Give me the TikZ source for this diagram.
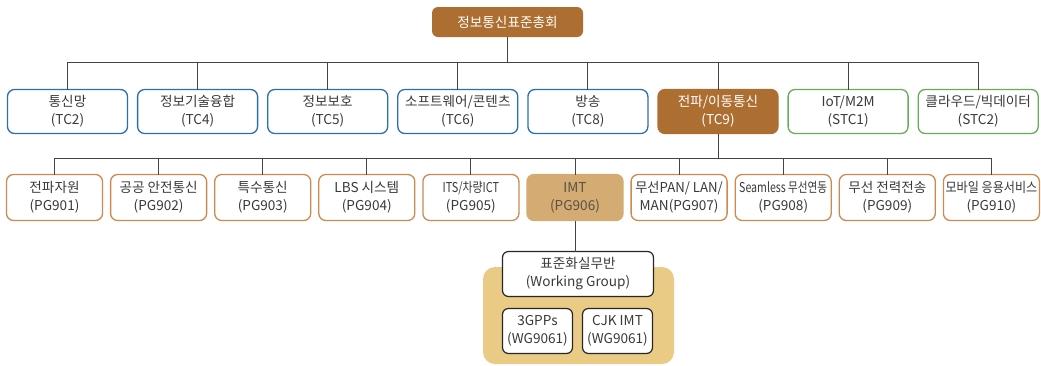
\documentclass[tikz,border=0pt]{standalone}
\usepackage{fontspec}
\setmainfont{Noto Sans CJK KR}
\usetikzlibrary{positioning}

\definecolor{councilbrown}{HTML}{AD6F31}
\definecolor{tcblue}{HTML}{2A6FB6}
\definecolor{stcgreen}{HTML}{6AAA5B}
\definecolor{pgorange}{HTML}{C98B4F}
\definecolor{imttan}{HTML}{D4AB72}
\definecolor{grouptan}{HTML}{EACB86}
\definecolor{textgray}{HTML}{3A3A3A}
\definecolor{linegray}{HTML}{444444}

\newcommand{\squeeze}[2]{\scalebox{#1}[1]{#2}}

\begin{document}
\begin{tikzpicture}[
    x=1pt, y=1pt,
    every node/.style={
            font=\fontsize{13.6}{18}\selectfont,
            text=textgray,
            align=center,
            inner sep=0pt,
            outer sep=0pt
        },
    link/.style={draw=linegray, line width=1pt},
    council_block/.style={
            fill=councilbrown,
            rounded corners=6pt,
            text=white,
            minimum width=151pt,
            minimum height=30pt
        },
    tc_block/.style={
            draw=tcblue,
            fill=white,
            line width=1.3pt,
            rounded corners=7pt,
            minimum width=120pt,
            minimum height=44pt
        },
    tc_active/.style={tc_block, draw=councilbrown, fill=councilbrown, text=white},
    stc_block/.style={tc_block, draw=stcgreen},
    pg_block/.style={
            draw=pgorange,
            fill=white,
            line width=1.3pt,
            rounded corners=7pt,
            minimum width=96pt,
            minimum height=46pt
        },
    pg_active/.style={pg_block, draw=imttan, fill=imttan, text=textgray!80!imttan},
    wg_block/.style={
            draw=black!85,
            fill=white,
            line width=1.2pt,
            rounded corners=6pt,
            minimum height=45pt
        }
    ]

    \useasboundingbox (0,0) rectangle (1041,-365);

    % --- Council ---
    \node (council) [council_block] at (507.5,-22) {정보통신표준총회};

    % --- Technical Committees ---
    \node (tc2) [tc_block] at (67.5,-111.5) {통신망\\(TC2)};
    \node (tc4) [tc_block, right=10.1pt of tc2] {정보기술융합\\(TC4)};
    \node (tc5) [tc_block, right=10.1pt of tc4] {정보보호\\(TC5)};
    \node (tc6) [tc_block, right=10.1pt of tc5] {소프트웨어/콘텐츠\\(TC6)};
    \node (tc8) [tc_block, right=10.1pt of tc6] {방송\\(TC8)};
    \node (tc9) [tc_active, right=10.1pt of tc8] {전파/이동통신\\(TC9)};
    \node (stc1) [stc_block, right=10.1pt of tc9] {IoT/M2M\\(STC1)};
    \node (stc2) [stc_block, right=10.1pt of stc1] {클라우드/빅데이터\\(STC2)};

    % --- Project Groups ---
    \node (pg901) [pg_block] at (54.5,-197.5) {전파자원\\(PG901)};
    \node (pg902) [pg_block, right=8.1pt of pg901] {공공 안전통신\\(PG902)};
    \node (pg903) [pg_block, right=8.1pt of pg902] {특수통신\\(PG903)};
    \node (pg904) [pg_block, right=8.1pt of pg903] {LBS 시스템\\(PG904)};
    \node (pg905) [pg_block, right=8.1pt of pg904] {\squeeze{0.8}{ITS/차량ICT}\\(PG905)};
    \node (pg906) [pg_active, right=8.1pt of pg905] {IMT\\(PG906)};
    \node (pg907) [pg_block, right=8.1pt of pg906] {\squeeze{0.97}{무선PAN/ LAN/}\\MAN(PG907)};
    \node (pg908) [pg_block, right=8.1pt of pg907] {\squeeze{0.78}{Seamless 무선연동}\\(PG908)};
    \node (pg909) [pg_block, right=8.1pt of pg908] {무선 전력전송\\(PG909)};
    \node (pg910) [pg_block, right=8.1pt of pg909] {\squeeze{0.89}{모바일 응용서비스}\\(PG910)};

    % --- Working Group ---
    \fill[grouptan, rounded corners=12pt] (483,-267) rectangle (674,-364);
    \node (wg) [wg_block, minimum width=151pt] at (578,-274) {표준화실무반\\(Working Group)};
    \node (wg3gpp) [wg_block, minimum width=70pt] at (537.5,-331) {3GPPs\\(WG9061)};
    \node (wgcjk) [wg_block, minimum width=70pt, right=10pt of wg3gpp] {CJK IMT\\(WG9061)};

    % --- Connectors ---
    \draw[link] (council.south) -- ++(0,-25) coordinate (bus1);
    \draw[link] (tc2.north) |- (stc2.north |- bus1) -- (stc2.north);
    \draw[link] (tc4.north) -- (tc4.north |- bus1);
    \draw[link] (tc5.north) -- (tc5.north |- bus1);
    \draw[link] (tc6.north) -- (tc6.north |- bus1);
    \draw[link] (tc8.north) -- (tc8.north |- bus1);
    \draw[link] (tc9.north) -- (tc9.north |- bus1);
    \draw[link] (stc1.north) -- (stc1.north |- bus1);

    \draw[link] (tc9.south) -- ++(0,-25) coordinate (bus2);
    \draw[link] (pg901.north) |- (pg910.north |- bus2) -- (pg910.north);
    \draw[link] (pg902.north) -- (pg902.north |- bus2);
    \draw[link] (pg903.north) -- (pg903.north |- bus2);
    \draw[link] (pg904.north) -- (pg904.north |- bus2);
    \draw[link] (pg905.north) -- (pg905.north |- bus2);
    \draw[link] (pg906.north) -- (pg906.north |- bus2);
    \draw[link] (pg907.north) -- (pg907.north |- bus2);
    \draw[link] (pg908.north) -- (pg908.north |- bus2);
    \draw[link] (pg909.north) -- (pg909.north |- bus2);

    \draw[link] (pg906.south) -- (pg906.south |- wg.north);

\end{tikzpicture}
\end{document}
